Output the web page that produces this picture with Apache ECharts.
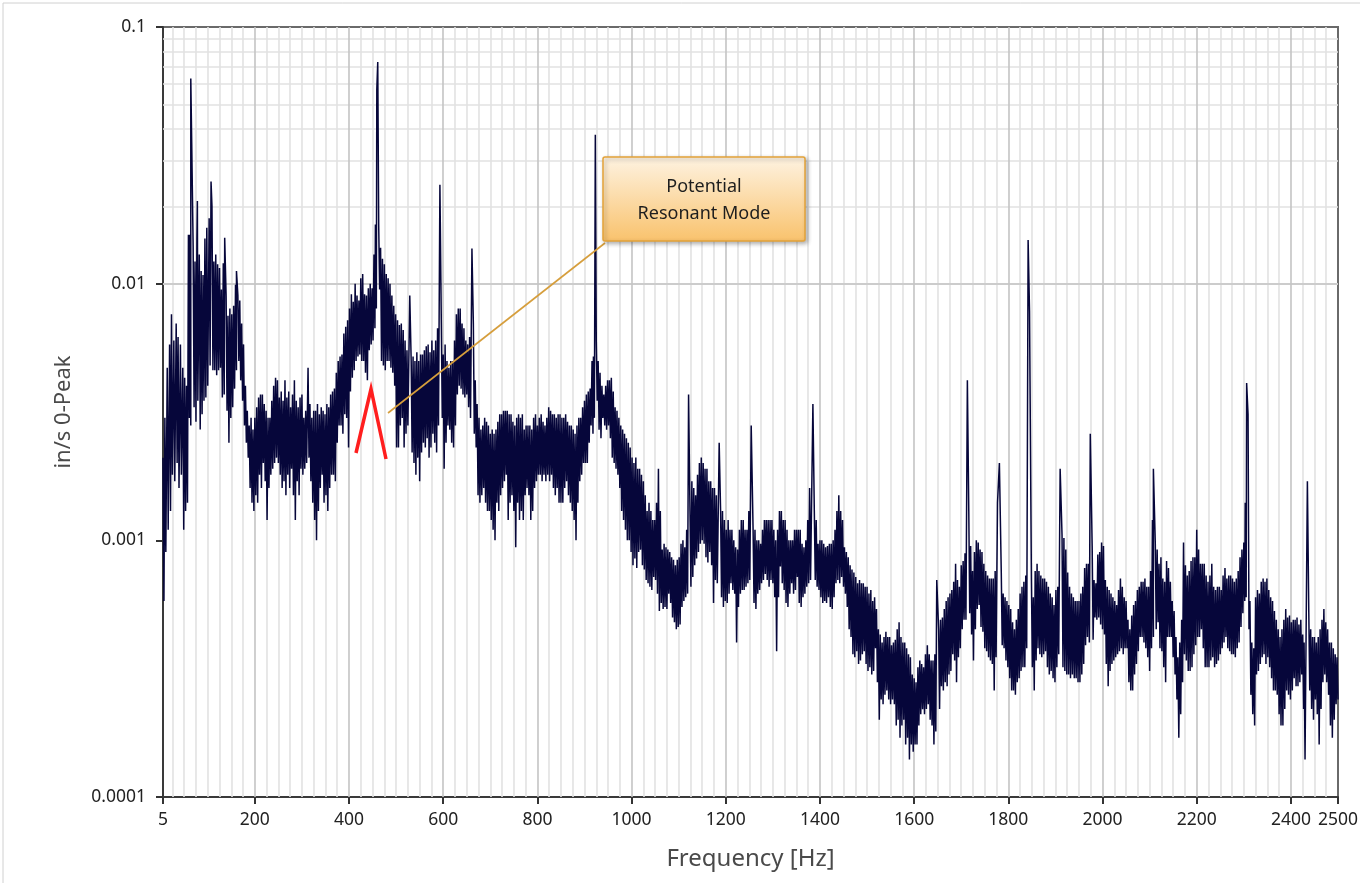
<!DOCTYPE html>
<html>
<head>
<meta charset="utf-8">
<script src="https://cdn.jsdelivr.net/npm/echarts@6/dist/echarts.min.js"></script>
<style>
  html, body { margin: 0; padding: 0; background: #fff; }
  #chart { width: 1363px; height: 886px; }
</style>
</head>
<body>
<div id="chart"></div>
<script>
// tick labels
const xTicks = [5, 200, 400, 600, 800, 1000, 1200, 1400, 1600, 1800, 2000, 2200, 2400, 2500];
const yTicks = [0.0001, 0.001, 0.01, 0.1];

// spectrum: [Hz, upper edge, lower edge] of the noisy band
const band0 = [
  [5, 0.0021, 0.00058], [9, 0.0030, 0.0009], [14, 0.0047, 0.0011], [19, 0.0058, 0.0013],
  [23, 0.0076, 0.0018], [28, 0.0060, 0.0017], [33, 0.0070, 0.0020], [37, 0.0062, 0.0016],
  [42, 0.0058, 0.0018], [47, 0.0047, 0.0011], [51, 0.0043, 0.0013], [55, 0.0040, 0.0014],
  [59, 0.0155, 0.0030], [62, 0.0155, 0.0028], [69, 0.0140, 0.0033], [73, 0.0122, 0.0029],
  [77, 0.0150, 0.0035], [82, 0.0130, 0.0027], [86, 0.0112, 0.0031], [90, 0.0108, 0.0035],
  [94, 0.0150, 0.0036], [98, 0.0165, 0.0040], [103, 0.0180, 0.0048], [109, 0.0200, 0.0046],
  [113, 0.0122, 0.0046], [117, 0.0130, 0.0044], [121, 0.0119, 0.0046], [125, 0.0115, 0.0047],
  [129, 0.0095, 0.0036], [133, 0.0120, 0.0037], [139, 0.0090, 0.0032], [143, 0.0075, 0.0024],
  [147, 0.0080, 0.0030], [151, 0.0076, 0.0033], [155, 0.0082, 0.0039], [159, 0.0099, 0.0046],
  [164, 0.0090, 0.0050], [168, 0.0086, 0.0042], [172, 0.0070, 0.0035], [176, 0.0058, 0.0028],
  [180, 0.0040, 0.0024], [184, 0.0032, 0.0021], [188, 0.0028, 0.0016], [192, 0.0030, 0.0014],
  [196, 0.0027, 0.0013], [200, 0.0030, 0.0015], [204, 0.0033, 0.0014], [208, 0.0036, 0.0018],
  [212, 0.0037, 0.0016], [216, 0.0037, 0.0020], [220, 0.0034, 0.0017], [224, 0.0032, 0.0012],
  [228, 0.0030, 0.0016], [232, 0.0030, 0.0018], [236, 0.0035, 0.0019], [240, 0.0040, 0.0020],
  [244, 0.0043, 0.0021], [248, 0.0042, 0.0020], [252, 0.0036, 0.0018], [256, 0.0038, 0.0016],
  [260, 0.0035, 0.0017], [264, 0.0042, 0.0015], [268, 0.0036, 0.0018], [272, 0.0038, 0.0016],
  [276, 0.0033, 0.0019], [280, 0.0037, 0.0015], [284, 0.0042, 0.0012], [288, 0.0035, 0.0017],
  [292, 0.0033, 0.0015], [296, 0.0036, 0.0019], [300, 0.0037, 0.0018], [304, 0.0030, 0.0019],
  [308, 0.0032, 0.0020], [313, 0.0047, 0.0021], [317, 0.0034, 0.0017], [321, 0.0030, 0.0014],
  [325, 0.0032, 0.0012], [329, 0.0032, 0.0010], [333, 0.0034, 0.0013], [337, 0.0031, 0.0016],
  [341, 0.0033, 0.0018], [345, 0.0032, 0.0014], [349, 0.0031, 0.0015], [353, 0.0034, 0.0013],
  [357, 0.0033, 0.0016], [361, 0.0037, 0.0018], [365, 0.0038, 0.0018], [369, 0.0039, 0.0017],
  [373, 0.0045, 0.0024], [377, 0.0050, 0.0028], [381, 0.0052, 0.0028], [385, 0.0053, 0.0026],
  [389, 0.0064, 0.0031], [393, 0.0068, 0.0030], [397, 0.0072, 0.0023], [401, 0.0080, 0.0038],
  [405, 0.0091, 0.0043], [409, 0.0085, 0.0046], [413, 0.0100, 0.0050], [417, 0.0090, 0.0052],
  [421, 0.0086, 0.0053], [425, 0.0105, 0.0050], [429, 0.0109, 0.0050], [433, 0.0091, 0.0045],
  [437, 0.0090, 0.0042], [441, 0.0096, 0.0055], [445, 0.0100, 0.0058], [449, 0.0096, 0.0060],
  [453, 0.0130, 0.0067], [456, 0.0170, 0.0080], [463, 0.0170, 0.0095], [467, 0.0138, 0.0050],
  [471, 0.0125, 0.0048], [475, 0.0119, 0.0046], [479, 0.0109, 0.0050], [483, 0.0105, 0.0050],
  [487, 0.0100, 0.0047], [491, 0.0090, 0.0045], [495, 0.0082, 0.0040], [499, 0.0076, 0.0023]
];

const band500 = [
  [503, 0.0072, 0.0023], [507, 0.0069, 0.0028], [511, 0.0070, 0.0030], [515, 0.0066, 0.0023],
  [519, 0.0060, 0.0026], [523, 0.0055, 0.0028], [532, 0.0050, 0.0022], [536, 0.0052, 0.0020],
  [540, 0.0050, 0.0018], [544, 0.0054, 0.0021], [548, 0.0050, 0.0017], [552, 0.0053, 0.0022],
  [556, 0.0053, 0.0024], [560, 0.0055, 0.0023], [564, 0.0057, 0.0025], [568, 0.0058, 0.0021],
  [572, 0.0054, 0.0023], [576, 0.0060, 0.0026], [580, 0.0055, 0.0024], [584, 0.0060, 0.0022],
  [588, 0.0067, 0.0028], [596, 0.0070, 0.0030], [600, 0.0053, 0.0019], [604, 0.0058, 0.0024],
  [608, 0.0050, 0.0028], [612, 0.0047, 0.0027], [616, 0.0050, 0.0024], [620, 0.0050, 0.0023],
  [624, 0.0060, 0.0028], [628, 0.0076, 0.0037], [632, 0.0080, 0.0040], [636, 0.0080, 0.0039],
  [640, 0.0070, 0.0037], [644, 0.0067, 0.0036], [648, 0.0060, 0.0037], [652, 0.0058, 0.0033],
  [656, 0.0062, 0.0030], [664, 0.0070, 0.0026], [668, 0.0042, 0.0023], [672, 0.0034, 0.0015],
  [676, 0.0030, 0.0014], [680, 0.0027, 0.0015], [684, 0.0028, 0.0016], [688, 0.0030, 0.0014],
  [692, 0.0029, 0.0013], [696, 0.0028, 0.0013], [700, 0.0026, 0.0012], [704, 0.0027, 0.0011],
  [708, 0.0026, 0.0010], [712, 0.0027, 0.0014], [716, 0.0029, 0.0013], [720, 0.0031, 0.0015],
  [724, 0.0031, 0.0016], [728, 0.0032, 0.0017], [732, 0.0032, 0.0018], [736, 0.0032, 0.0012],
  [740, 0.0031, 0.0014], [744, 0.0031, 0.0015], [748, 0.0029, 0.0013], [752, 0.0028, 0.00094],
  [756, 0.0030, 0.0014], [760, 0.0031, 0.0012], [764, 0.0030, 0.0013], [768, 0.0031, 0.0012],
  [772, 0.0027, 0.0015], [776, 0.0028, 0.0016], [780, 0.0028, 0.0015], [784, 0.0028, 0.0012],
  [788, 0.0027, 0.0013], [792, 0.0030, 0.0016], [796, 0.0031, 0.0017], [800, 0.0028, 0.0018],
  [804, 0.0030, 0.0018], [808, 0.0031, 0.0017], [812, 0.0029, 0.0018], [816, 0.0028, 0.0017],
  [820, 0.0030, 0.0018], [824, 0.0033, 0.0017], [828, 0.0032, 0.0018], [832, 0.0031, 0.0016],
  [836, 0.0031, 0.0015], [840, 0.0030, 0.0016], [844, 0.0031, 0.0014], [848, 0.0031, 0.0014],
  [852, 0.0030, 0.0014], [856, 0.0030, 0.0016], [860, 0.0031, 0.0017], [864, 0.0029, 0.0015],
  [868, 0.0028, 0.0014], [872, 0.0028, 0.0013], [876, 0.0027, 0.0012], [880, 0.0026, 0.0010],
  [884, 0.0028, 0.0014], [888, 0.0030, 0.0017], [892, 0.0030, 0.0018], [896, 0.0033, 0.0020],
  [900, 0.0035, 0.0020], [904, 0.0037, 0.0020], [908, 0.0038, 0.0024], [912, 0.0039, 0.0028],
  [916, 0.0050, 0.0026], [919, 0.0052, 0.0030], [925, 0.0060, 0.0035], [929, 0.0050, 0.0027],
  [933, 0.0045, 0.0025], [937, 0.0040, 0.0030], [941, 0.0037, 0.0028], [945, 0.0040, 0.0027],
  [949, 0.0042, 0.0028], [953, 0.0042, 0.0025], [957, 0.0043, 0.0021], [961, 0.0038, 0.0020],
  [965, 0.0033, 0.0019], [969, 0.0032, 0.0018], [973, 0.0030, 0.0016], [977, 0.0028, 0.0013],
  [981, 0.0027, 0.0012], [985, 0.0026, 0.0011], [989, 0.0025, 0.0010], [993, 0.0024, 0.0010],
  [997, 0.0023, 0.0009]
];

const band1000 = [
  [1001, 0.0021, 0.0008], [1005, 0.0020, 0.00085], [1009, 0.0021, 0.00078], [1013, 0.0019, 0.0009],
  [1017, 0.0019, 0.00092], [1021, 0.0018, 0.0008], [1025, 0.0017, 0.00077], [1029, 0.0015, 0.0007],
  [1033, 0.0013, 0.00068], [1037, 0.0014, 0.00066], [1041, 0.0013, 0.00064], [1045, 0.0012, 0.00072],
  [1049, 0.0012, 0.0007], [1053, 0.0014, 0.00062], [1057, 0.0019, 0.00053], [1061, 0.0013, 0.00057],
  [1065, 0.00092, 0.00054], [1069, 0.00097, 0.00055], [1073, 0.00094, 0.00054], [1077, 0.00092, 0.00062],
  [1081, 0.0009, 0.00057], [1085, 0.00086, 0.0005], [1089, 0.00084, 0.00048], [1093, 0.0008, 0.00045],
  [1097, 0.00084, 0.00046], [1101, 0.00086, 0.00047], [1105, 0.00097, 0.00055], [1109, 0.001, 0.00058],
  [1113, 0.00094, 0.0006], [1117, 0.0011, 0.00062], [1124, 0.0013, 0.00066], [1128, 0.0017, 0.00072],
  [1132, 0.0016, 0.0008], [1136, 0.0015, 0.00085], [1140, 0.0018, 0.0009], [1144, 0.002, 0.00097],
  [1148, 0.0021, 0.001], [1152, 0.002, 0.00097], [1156, 0.0019, 0.00086], [1160, 0.0019, 0.00082],
  [1164, 0.0017, 0.0009], [1168, 0.0017, 0.0008], [1172, 0.0016, 0.00057], [1176, 0.0016, 0.0007],
  [1180, 0.0015, 0.00068], [1189, 0.0013, 0.0006], [1193, 0.0013, 0.00055], [1197, 0.0012, 0.00058],
  [1201, 0.0011, 0.00057], [1205, 0.0012, 0.00062], [1209, 0.0011, 0.00068], [1213, 0.0011, 0.00064],
  [1217, 0.001, 0.00062], [1221, 0.00094, 0.0004], [1225, 0.00092, 0.00055], [1229, 0.0011, 0.00062],
  [1233, 0.0012, 0.00064], [1237, 0.0012, 0.00064], [1241, 0.0011, 0.00066], [1245, 0.0011, 0.00068],
  [1249, 0.0013, 0.0007], [1258, 0.0011, 0.00057], [1262, 0.0011, 0.00054], [1266, 0.001, 0.00062],
  [1270, 0.001, 0.00064], [1274, 0.00097, 0.00068], [1278, 0.0011, 0.0007], [1282, 0.0012, 0.00074],
  [1286, 0.0012, 0.0007], [1290, 0.0012, 0.00066], [1294, 0.0012, 0.0007], [1298, 0.0012, 0.00068],
  [1302, 0.0011, 0.0006], [1306, 0.001, 0.00037], [1310, 0.0011, 0.0006], [1314, 0.0013, 0.00079],
  [1318, 0.0013, 0.00068], [1322, 0.0012, 0.00064], [1326, 0.0012, 0.00057], [1330, 0.0011, 0.00055],
  [1334, 0.001, 0.00062], [1338, 0.001, 0.00068], [1342, 0.001, 0.00062], [1346, 0.0011, 0.00064],
  [1350, 0.0011, 0.00072], [1354, 0.0011, 0.00057], [1358, 0.0011, 0.00055], [1362, 0.00097, 0.0006],
  [1366, 0.00094, 0.00062], [1370, 0.001, 0.00066], [1374, 0.0012, 0.00068], [1378, 0.0016, 0.0007],
  [1388, 0.0013, 0.0007], [1392, 0.0012, 0.00066], [1396, 0.00097, 0.00064], [1400, 0.001, 0.0006],
  [1404, 0.001, 0.00057], [1408, 0.00097, 0.00058], [1412, 0.00094, 0.00057], [1416, 0.00095, 0.0006],
  [1420, 0.00097, 0.00055], [1424, 0.00097, 0.00054], [1428, 0.001, 0.0006], [1432, 0.0011, 0.00068],
  [1436, 0.0013, 0.0007], [1440, 0.0015, 0.00068], [1444, 0.0013, 0.00072], [1448, 0.0012, 0.00066],
  [1452, 0.00094, 0.00062], [1456, 0.0009, 0.00055], [1460, 0.00086, 0.00045], [1464, 0.0008, 0.00042],
  [1468, 0.00077, 0.00036], [1472, 0.00075, 0.00035], [1476, 0.00072, 0.00037], [1480, 0.00068, 0.00033],
  [1484, 0.0007, 0.00034], [1488, 0.00068, 0.00036], [1492, 0.00068, 0.00037], [1496, 0.00066, 0.00033]
];

const band1500 = [
  [1500, 0.00066, 0.00031], [1504, 0.00062, 0.00032], [1508, 0.00064, 0.0003], [1512, 0.00058, 0.00031],
  [1516, 0.0006, 0.00038], [1520, 0.00054, 0.00028], [1524, 0.00045, 0.0002], [1528, 0.00043, 0.00024],
  [1532, 0.0004, 0.00023], [1536, 0.00042, 0.00025], [1540, 0.00044, 0.00026], [1544, 0.00042, 0.00024],
  [1548, 0.00042, 0.00023], [1552, 0.00039, 0.00024], [1556, 0.0004, 0.00023], [1560, 0.00041, 0.00019],
  [1564, 0.00045, 0.0002], [1568, 0.00048, 0.00017], [1572, 0.00042, 0.00019], [1576, 0.0004, 0.0002],
  [1580, 0.0004, 0.00016], [1584, 0.00038, 0.00017], [1588, 0.00036, 0.00014], [1592, 0.00035, 0.00016],
  [1596, 0.0003, 0.00015], [1600, 0.00029, 0.00016], [1604, 0.00028, 0.00016], [1608, 0.00032, 0.00019],
  [1612, 0.00034, 0.00021], [1616, 0.00033, 0.00022], [1620, 0.00032, 0.00021], [1624, 0.00036, 0.00022],
  [1628, 0.00039, 0.00023], [1632, 0.00036, 0.0002], [1636, 0.00034, 0.00019], [1640, 0.00034, 0.00016],
  [1644, 0.00036, 0.00018], [1652, 0.00045, 0.00022], [1656, 0.00049, 0.00027], [1660, 0.0005, 0.00026],
  [1664, 0.00054, 0.00028], [1668, 0.00058, 0.00027], [1672, 0.0006, 0.0003], [1676, 0.00062, 0.00031],
  [1680, 0.00064, 0.00036], [1684, 0.00069, 0.00034], [1688, 0.00081, 0.00028], [1692, 0.0007, 0.00035],
  [1696, 0.00066, 0.00038], [1700, 0.0008, 0.00045], [1704, 0.00083, 0.00049], [1708, 0.00089, 0.00049],
  [1716, 0.0013, 0.00052], [1720, 0.00095, 0.00043], [1724, 0.00076, 0.00034], [1728, 0.0009, 0.00045],
  [1732, 0.001, 0.00054], [1736, 0.00098, 0.00056], [1740, 0.00092, 0.00046], [1744, 0.0009, 0.00044],
  [1748, 0.00081, 0.00038], [1752, 0.00076, 0.00037], [1756, 0.00073, 0.00035], [1760, 0.00071, 0.00034],
  [1764, 0.00071, 0.00033], [1768, 0.00071, 0.00026], [1772, 0.00076, 0.00035], [1785, 0.00075, 0.00039],
  [1789, 0.00062, 0.00038], [1793, 0.0006, 0.00034], [1797, 0.00058, 0.00032], [1801, 0.00056, 0.00029],
  [1805, 0.00054, 0.00026], [1809, 0.00048, 0.00026], [1813, 0.00045, 0.00025], [1817, 0.00049, 0.00028],
  [1821, 0.00054, 0.00029], [1825, 0.00062, 0.00031], [1829, 0.00066, 0.00032], [1833, 0.00069, 0.00032],
  [1837, 0.00073, 0.00038], [1849, 0.0007, 0.00032], [1853, 0.0006, 0.00026], [1857, 0.00076, 0.00034],
  [1861, 0.00081, 0.00038], [1865, 0.00076, 0.00036], [1869, 0.00073, 0.00035], [1873, 0.00071, 0.00036],
  [1877, 0.00071, 0.00037], [1881, 0.00069, 0.00032], [1885, 0.00066, 0.0003], [1889, 0.00062, 0.00031],
  [1893, 0.0006, 0.00029], [1897, 0.00056, 0.00028], [1901, 0.00064, 0.00032], [1905, 0.00066, 0.00036],
  [1914, 0.00105, 0.00032], [1918, 0.00102, 0.00031], [1922, 0.00092, 0.0003], [1926, 0.00075, 0.0003],
  [1930, 0.00066, 0.00029], [1934, 0.00062, 0.0003], [1938, 0.0006, 0.00029], [1942, 0.00058, 0.00029],
  [1946, 0.00058, 0.00028], [1950, 0.00058, 0.00028], [1954, 0.00062, 0.0003], [1958, 0.00066, 0.00033],
  [1962, 0.00078, 0.00039], [1966, 0.00081, 0.00042], [1970, 0.00081, 0.0004], [1978, 0.00095, 0.00041],
  [1982, 0.0007, 0.0005], [1986, 0.00068, 0.00049], [1990, 0.00088, 0.0005], [1994, 0.0009, 0.00047]
];

const band2000 = [
  [1998, 0.00098, 0.00045], [2002, 0.00095, 0.00043], [2006, 0.0007, 0.00033], [2010, 0.00066, 0.00027],
  [2014, 0.00064, 0.00031], [2018, 0.00062, 0.00033], [2022, 0.0006, 0.00034], [2026, 0.00058, 0.00035],
  [2030, 0.00056, 0.00036], [2034, 0.00064, 0.00037], [2038, 0.00071, 0.00038], [2042, 0.00066, 0.00036],
  [2046, 0.0006, 0.00038], [2050, 0.00058, 0.00038], [2054, 0.00049, 0.00028], [2058, 0.00045, 0.00026],
  [2062, 0.00051, 0.00026], [2066, 0.00056, 0.0003], [2070, 0.00058, 0.00033], [2074, 0.00064, 0.00037],
  [2078, 0.00066, 0.00042], [2082, 0.00069, 0.00042], [2086, 0.00069, 0.0004], [2090, 0.00071, 0.00038],
  [2094, 0.00066, 0.00035], [2098, 0.00066, 0.00031], [2102, 0.00076, 0.00038], [2106, 0.0012, 0.00042],
  [2112, 0.00098, 0.00045], [2116, 0.00092, 0.00048], [2120, 0.00081, 0.00038], [2124, 0.00086, 0.00037],
  [2128, 0.00071, 0.00032], [2132, 0.00069, 0.00028], [2136, 0.00083, 0.00042], [2140, 0.00078, 0.00042],
  [2144, 0.00069, 0.00042], [2148, 0.00058, 0.00035], [2152, 0.00053, 0.0003], [2156, 0.00042, 0.00024],
  [2160, 0.00035, 0.00017], [2164, 0.0004, 0.00021], [2168, 0.00049, 0.00028], [2172, 0.00098, 0.00036],
  [2176, 0.0008, 0.00034], [2180, 0.00073, 0.00031], [2184, 0.00076, 0.00031], [2188, 0.00083, 0.00032],
  [2192, 0.00086, 0.00036], [2196, 0.00086, 0.00039], [2200, 0.0011, 0.00042], [2204, 0.00092, 0.00042],
  [2208, 0.00081, 0.00045], [2212, 0.00081, 0.00038], [2216, 0.00081, 0.00032], [2220, 0.00073, 0.00032],
  [2224, 0.00069, 0.00032], [2228, 0.00073, 0.00034], [2232, 0.00081, 0.00035], [2236, 0.00066, 0.00032],
  [2240, 0.00064, 0.00033], [2244, 0.00066, 0.00034], [2248, 0.00066, 0.00036], [2252, 0.00064, 0.00038],
  [2256, 0.00073, 0.0004], [2260, 0.00078, 0.00042], [2264, 0.00071, 0.00038], [2268, 0.00073, 0.00037],
  [2272, 0.00073, 0.00036], [2276, 0.00071, 0.00036], [2280, 0.00069, 0.00035], [2284, 0.00071, 0.00038],
  [2288, 0.00076, 0.0004], [2292, 0.00086, 0.00046], [2296, 0.00092, 0.00052], [2300, 0.00098, 0.00058],
  [2303, 0.0014, 0.0006], [2309, 0.0031, 0.00045], [2313, 0.00058, 0.00025], [2317, 0.0004, 0.00021],
  [2321, 0.00038, 0.00019], [2325, 0.0006, 0.0003], [2329, 0.00064, 0.00031], [2333, 0.00062, 0.00033],
  [2337, 0.00069, 0.00035], [2341, 0.00071, 0.00036], [2345, 0.00069, 0.00033], [2349, 0.00071, 0.00035],
  [2353, 0.00064, 0.00032], [2357, 0.0006, 0.00029], [2361, 0.00058, 0.00026], [2365, 0.00053, 0.00026],
  [2369, 0.00049, 0.00025], [2373, 0.00045, 0.00021], [2377, 0.00042, 0.00019], [2381, 0.00045, 0.00019],
  [2385, 0.00049, 0.00022], [2389, 0.00054, 0.00026], [2393, 0.0005, 0.00025], [2397, 0.00051, 0.00024],
  [2401, 0.00048, 0.00026], [2405, 0.00049, 0.00029], [2409, 0.00049, 0.00027], [2413, 0.0005, 0.00027],
  [2417, 0.00047, 0.00028], [2421, 0.00049, 0.0003], [2425, 0.00043, 0.00022], [2428, 0.0004, 0.00014],
  [2438, 0.00052, 0.00026], [2442, 0.00045, 0.00022], [2446, 0.00042, 0.0002], [2450, 0.00042, 0.00024],
  [2454, 0.0004, 0.00021], [2458, 0.00042, 0.00016], [2462, 0.00045, 0.00022], [2466, 0.00049, 0.00028],
  [2470, 0.00054, 0.0003], [2474, 0.00048, 0.00028], [2478, 0.00045, 0.00025], [2482, 0.0004, 0.00019],
  [2486, 0.0004, 0.00017], [2490, 0.00038, 0.0002], [2494, 0.00036, 0.00023], [2498, 0.00035, 0.00024]
];

// narrow tonal peaks [Hz, in/s]
const peaks = [
  [64, 0.063], [66, 0.035], [78, 0.021], [107, 0.025], [136, 0.0151], [161, 0.0112],
  [459, 0.057], [461, 0.073], [529, 0.009], [593, 0.0243], [661, 0.0137], [923, 0.038],
  [1121, 0.0037], [1186, 0.0024], [1254, 0.0028], [1385, 0.0034], [1648, 0.0007],
  [1713, 0.0042], [1777, 0.0014], [1781, 0.002], [1842, 0.0148], [1845, 0.0078],
  [1910, 0.0019], [1974, 0.0026], [2108, 0.0019], [2306, 0.0041], [2435, 0.0017]
];

const spectrum = [];
[].concat(band0, band500, band1000, band1500, band2000).forEach(function (r) {
  spectrum.push([r[0], r[1]]);
  spectrum.push([r[0] + 2, r[2]]);
});
peaks.forEach(function (p) { spectrum.push(p); });
spectrum.sort(function (a, b) { return a[0] - b[0]; });

// grid lines like the original plot: majors every 200 Hz / decade, minors every 25 Hz / 2..9
const majorLines = [];
const minorLines = [];
for (let f = 25; f < 2500; f += 25) {
  if (f % 200 === 0) majorLines.push({ xAxis: f });
  else minorLines.push({ xAxis: f });
}
[0.0001, 0.001, 0.01].forEach(function (d) {
  if (d > 0.0001) majorLines.push({ yAxis: d });
  for (let k = 2; k <= 9; k++) minorLines.push({ yAxis: +(k * d).toPrecision(2) });
});

const chart = echarts.init(document.getElementById('chart'));
const font = '"Noto Sans", "Open Sans", sans-serif';

chart.setOption({
  animation: false,
  backgroundColor: '#fff',
  grid: {
    left: 163, top: 27, right: 25, bottom: 89,
    show: true, borderColor: '#6a6a6a', borderWidth: 2, backgroundColor: 'transparent'
  },
  xAxis: {
    type: 'value', min: 5, max: 2500,
    name: 'Frequency [Hz]', nameLocation: 'middle', nameGap: 50,
    nameTextStyle: { fontSize: 24, color: '#4a4a4a', fontFamily: font },
    axisLine: { show: true, onZero: false, lineStyle: { color: '#3a3a3a', width: 2 } },
    axisTick: { show: true, customValues: xTicks, length: 7, lineStyle: { color: '#333', width: 2 } },
    axisLabel: {
      customValues: xTicks, fontSize: 17.5, color: '#222', margin: 14, fontFamily: font,
      formatter: function (v) { return String(v); }
    },
    splitLine: { show: false }
  },
  yAxis: {
    type: 'log', logBase: 10, min: 0.0001, max: 0.1,
    name: 'in/s 0-Peak', nameLocation: 'middle', nameGap: 88, nameRotate: 90,
    nameTextStyle: { fontSize: 22, color: '#4a4a4a', fontFamily: font },
    axisLine: { show: true, lineStyle: { color: '#3a3a3a', width: 2 } },
    axisTick: { show: true, customValues: yTicks, length: 7, lineStyle: { color: '#333', width: 2 } },
    axisLabel: {
      customValues: yTicks, fontSize: 17.5, color: '#222', margin: 17, fontFamily: font,
      formatter: function (v) { return String(+(+v).toPrecision(1)); }
    },
    splitLine: { show: false }
  },
  series: [
    {
      type: 'line', data: [], silent: true, z: 1,
      markLine: {
        silent: true, symbol: 'none', animation: false, label: { show: false },
        lineStyle: { color: '#e2e2e2', width: 1.6, type: 'solid' },
        emphasis: { disabled: true },
        data: minorLines
      }
    },
    {
      type: 'line', data: [], silent: true, z: 2,
      markLine: {
        silent: true, symbol: 'none', animation: false, label: { show: false },
        lineStyle: { color: '#c4c4c4', width: 1.6, type: 'solid' },
        emphasis: { disabled: true },
        data: majorLines
      }
    },
    {
      name: 'spectrum', type: 'line', data: spectrum, z: 5,
      showSymbol: false, symbol: 'none', sampling: false, silent: true,
      lineStyle: { color: '#06063a', width: 1.5 }
    }
  ],
  graphic: [
    { type: 'line', shape: { x1: 3, y1: 3, x2: 1360, y2: 3 }, style: { stroke: '#d0d0d0', lineWidth: 1 } },
    { type: 'line', shape: { x1: 3, y1: 3, x2: 3, y2: 883 }, style: { stroke: '#d0d0d0', lineWidth: 1 } },
    // leader line from the callout to the hump
    { type: 'line', z: 100, shape: { x1: 605, y1: 243, x2: 388, y2: 413 },
      style: { stroke: '#d69e3c', lineWidth: 1.6 } },
    // red caret under the hump
    { type: 'polyline', z: 100, shape: { points: [[356, 453], [371, 389], [386, 459]] },
      style: { stroke: '#ff1e1e', lineWidth: 3.5, fill: null } },
    {
      type: 'rect', z: 100,
      shape: { x: 603, y: 157, width: 202, height: 84, r: 2 },
      style: {
        fill: new echarts.graphic.LinearGradient(0, 0, 0, 1, [
          { offset: 0, color: '#fef3e2' },
          { offset: 1, color: '#f9c26c' }
        ]),
        stroke: '#e3a238', lineWidth: 1.5,
        shadowBlur: 4, shadowOffsetX: 2, shadowOffsetY: 2, shadowColor: 'rgba(0,0,0,0.3)'
      }
    },
    {
      type: 'text', z: 101, x: 704, y: 200,
      style: {
        text: 'Potential\nResonant Mode', align: 'center', verticalAlign: 'middle',
        fontSize: 18, lineHeight: 27, fill: '#1e1e1e', fontFamily: font
      }
    }
  ]
});
</script>
</body>
</html>
